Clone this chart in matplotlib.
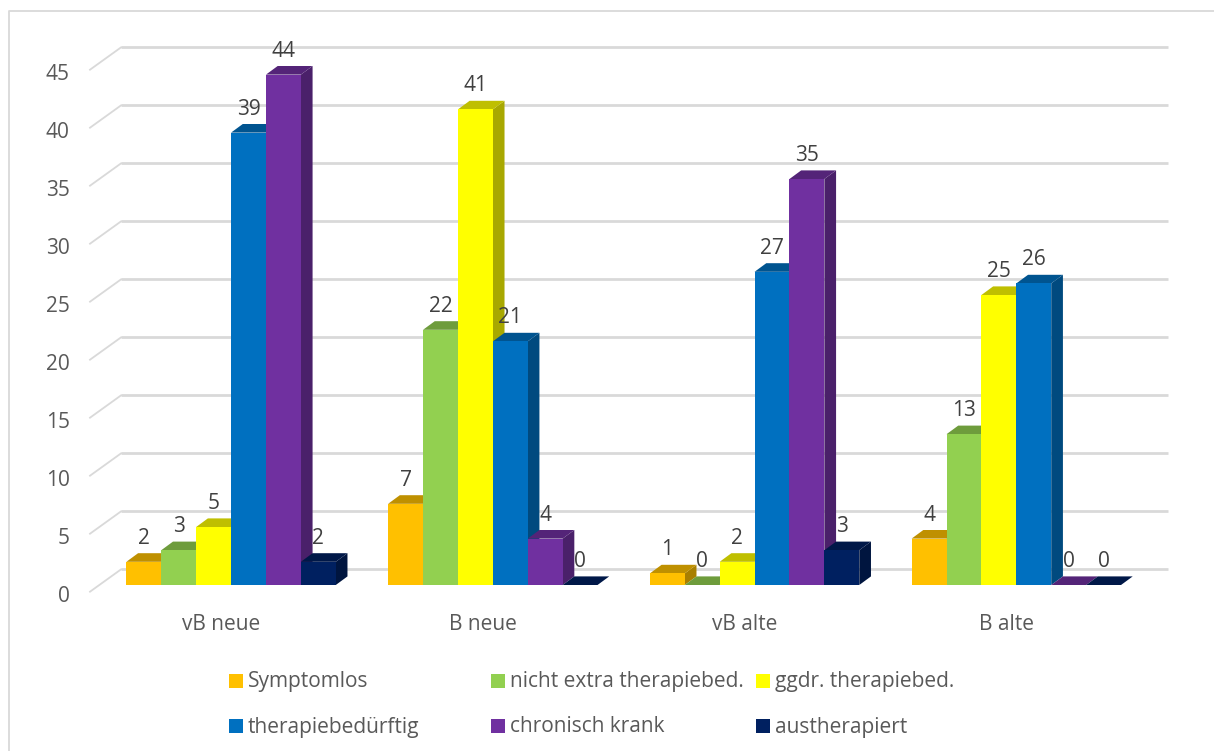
import matplotlib
matplotlib.use("Agg")
import matplotlib.pyplot as plt
from matplotlib.lines import Line2D
from matplotlib.patches import Polygon, Rectangle
from matplotlib.transforms import Affine2D
from matplotlib.colors import to_rgb

W, H = 1214, 751

categories = ["vB neue", "B neue", "vB alte", "B alte"]
symptomlos = [2, 7, 1, 4]
nicht_extra = [3, 22, 0, 13]
ggdr = [5, 41, 2, 25]
therapiebeduerftig = [39, 21, 27, 26]
chronisch = [44, 4, 35, 0]
austherapiert = [2, 0, 3, 0]
y_ticks = [0, 5, 10, 15, 20, 25, 30, 35, 40, 45]

series_names = ["Symptomlos", "nicht extra therapiebed.", "ggdr. therapiebed.",
                "therapiebedürftig", "chronisch krank", "austherapiert"]
series_values = [symptomlos, nicht_extra, ggdr, therapiebeduerftig, chronisch, austherapiert]
colors = ["#FFC000", "#92D050", "#FFFF00", "#0070C0", "#7030A0", "#002060"]

GRID = "#D9D9D9"
TEXT = "#595959"
LABEL = "#404040"
FONT_SIZE = 15

plt.rcParams["font.family"] = ["Open Sans", "DejaVu Sans"]


def shade(color, k):
    return tuple(c * k for c in to_rgb(color))


fig = plt.figure(figsize=(W / 100, H / 100), dpi=100)
ax = fig.add_axes([90 / W, (H - 591.7) / H, 1047 / W, 522 / H])
ax.set_xlim(0, 4)
ax.set_ylim(0, 45)
for s in ax.spines.values():
    s.set_visible(False)

# image pixel coordinates for frame and legend
px = Affine2D().scale(1, -1).translate(0, H)

fig.add_artist(Line2D([9.3, 9.3, W], [H, 11, 11], transform=px, color=GRID, lw=1.3))

# one data unit in pixels
x_unit = 1047 / 4
y_unit = 522 / 45

# back wall grid, with the slanted part on the side wall
wall_dx = 31 / x_unit
wall_dy = 22.3 / y_unit
for v in y_ticks:
    ax.plot([0, wall_dx], [v, v + wall_dy], color=GRID, lw=1.3, clip_on=False, zorder=1)
    ax.plot([wall_dx, 4 + 30.7 / x_unit], [v + wall_dy, v + wall_dy], color=GRID, lw=2,
            clip_on=False, zorder=1, solid_capstyle="butt")

ax.set_yticks(y_ticks)
ax.set_xticks([i + 0.5 for i in range(len(categories))])
ax.set_xticklabels(categories)
ax.tick_params(axis="both", length=0, labelsize=FONT_SIZE, labelcolor=TEXT)
ax.tick_params(axis="y", pad=14.5)
ax.tick_params(axis="x", pad=16)
for tick_label in ax.get_yticklabels():
    tick_label.set_transform(tick_label.get_transform() + Affine2D().translate(0, -2.5))

# bars stand a bit inside the floor, so shift everything by the same amount
bars = ax.transData + Affine2D().translate(10.2, 6.7)
bar_w = 34.9 / x_unit
depth_x = 11.7 / x_unit
depth_y = 8.6 / y_unit
gap = (1 - bar_w * 6) / 2

z = 3
for g in range(len(categories)):
    for i, values in enumerate(series_values):
        x = g + gap + i * bar_w
        v = values[g]
        col = colors[i]
        ax.add_patch(Polygon([(x + bar_w, 0), (x + bar_w + depth_x, depth_y),
                              (x + bar_w + depth_x, v + depth_y), (x + bar_w, v)],
                             facecolor=shade(col, 0.66), edgecolor="none",
                             transform=bars, clip_on=False, zorder=z))
        ax.add_patch(Polygon([(x, v), (x + bar_w, v), (x + bar_w + depth_x, v + depth_y),
                              (x + depth_x, v + depth_y)],
                             facecolor=shade(col, 0.75), edgecolor="none",
                             transform=bars, clip_on=False, zorder=z))
        ax.bar(x, v, width=bar_w, align="edge", color=col, transform=bars,
               clip_on=False, zorder=z)
        z += 1

# value labels go on top of all bars
labels = ax.transData + Affine2D().translate(10.2, 6.7 + 23.5)
for g in range(len(categories)):
    for i, values in enumerate(series_values):
        x = g + gap + (i + 0.5) * bar_w
        ax.text(x, values[g], str(values[g]), transform=labels, ha="center", va="center",
                fontsize=FONT_SIZE, color=LABEL, zorder=100, clip_on=False)

ax.set_xlim(0, 4)
ax.set_ylim(0, 45)

# legend in two rows of three equal columns
col_x = [229, 491, 756]
row_y = [681, 726]
for i, name in enumerate(series_names):
    x = col_x[i % 3]
    y = row_y[i // 3]
    fig.add_artist(Rectangle((x, y - 7), 14, 14, transform=px, facecolor=colors[i],
                             edgecolor="none"))
    fig.text(x + 19, H - y - 1, name, transform=None, ha="left", va="center",
             fontsize=FONT_SIZE, color=TEXT)

fig.savefig("out.png", dpi=100)
